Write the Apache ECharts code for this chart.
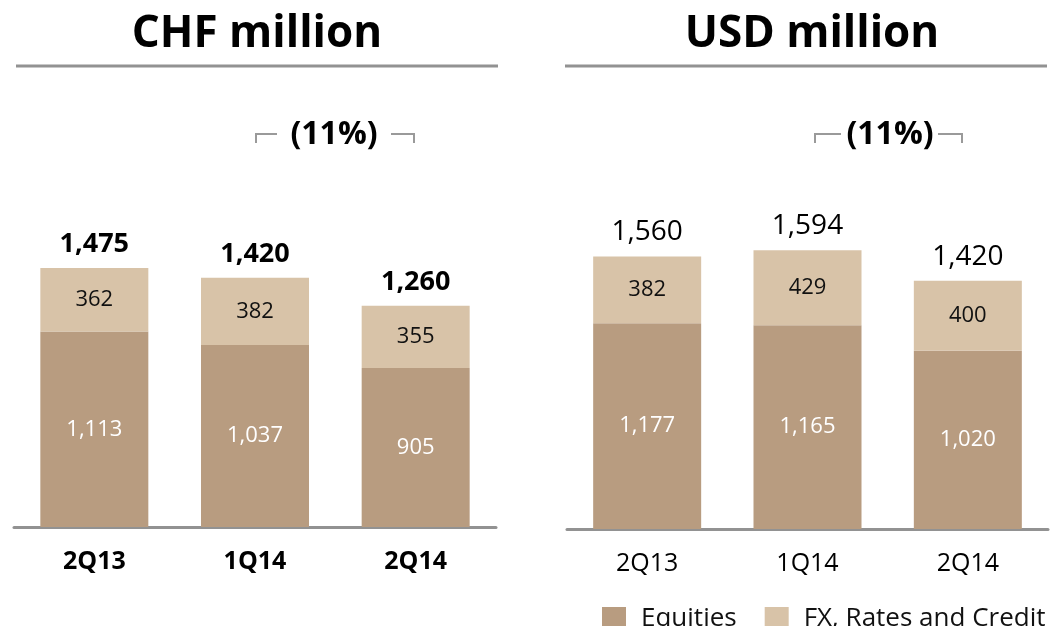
<!DOCTYPE html>
<html>
<head>
<meta charset="utf-8">
<script src="https://cdn.jsdelivr.net/npm/echarts@6/dist/echarts.min.js"></script>
<style>
  html, body { margin: 0; padding: 0; background: #fff; }
  #chart { width: 1057px; height: 626px; }
</style>
</head>
<body>
<div id="chart"></div>
<script>
// ── data ──
const quarters = ['2Q13', '1Q14', '2Q14']
const chfEquities = [1113, 1037, 905]
const chfFxRates = [362, 382, 355]
const usdEquities = [1177, 1165, 1020]
const usdFxRates = [382, 429, 400]
const chfTotals = [1475, 1420, 1260]
const usdTotals = [1560, 1594, 1420]
const changeLabel = '(11%)'

// ── style tokens ──
const FONT = '"Open Sans", "Noto Sans", sans-serif'
const EQ_COLOR = '#b89c80'
const FX_COLOR = '#d8c3a8'
const GREY = '#929292'

const fmt = v => v.toLocaleString('en-US')

function stackSeries(idx, equities, fx, totals, bold) {
  return [
    {
      name: 'Equities', type: 'bar', stack: 's' + idx,
      xAxisIndex: idx, yAxisIndex: idx, barWidth: 108,
      itemStyle: { color: EQ_COLOR },
      label: { show: true, position: 'inside', color: '#fff', fontSize: 22, fontFamily: FONT,
        formatter: p => fmt(p.value) },
      data: equities
    },
    {
      name: 'FX, Rates and Credit', type: 'bar', stack: 's' + idx,
      xAxisIndex: idx, yAxisIndex: idx, barWidth: 108,
      itemStyle: { color: FX_COLOR },
      label: { show: true, position: 'inside', color: '#111', fontSize: 22, fontFamily: FONT,
        formatter: p => fmt(p.value) },
      data: fx
    },
    {
      // zero-height cap, only carries the total label
      name: 'total' + idx, type: 'bar', stack: 's' + idx,
      xAxisIndex: idx, yAxisIndex: idx, barWidth: 108,
      itemStyle: { color: 'transparent' },
      label: { show: true, position: 'top', distance: 10, color: '#000',
        fontSize: bold ? 27 : 28,
        fontWeight: bold ? 'bold' : 'normal', fontFamily: FONT,
        formatter: p => fmt(totals[p.dataIndex]) },
      data: totals.map(() => 0)
    }
  ]
}

function xAxis(idx, bold) {
  return {
    type: 'category', gridIndex: idx, data: quarters,
    axisLine: { lineStyle: { color: GREY, width: 3 } },
    axisTick: { show: false },
    axisLabel: { color: '#000', fontSize: 25, fontWeight: bold ? 'bold' : 'normal',
      fontFamily: FONT, margin: 22 }
  }
}

function yAxis(idx) {
  return { type: 'value', gridIndex: idx, min: 0, max: 2500, show: false }
}

function bracket(x1, x2, y) {
  return { type: 'polyline', silent: true,
    shape: { points: [[x1, y + 9], [x1, y], [x2, y]] },
    style: { stroke: '#9a9a9a', lineWidth: 2, fill: null } }
}
function bracketR(x1, x2, y) {
  return { type: 'polyline', silent: true,
    shape: { points: [[x1, y], [x2, y], [x2, y + 9]] },
    style: { stroke: '#9a9a9a', lineWidth: 2, fill: null } }
}

function headText(text, x, y, size) {
  return { type: 'text', silent: true, position: [x, y],
    style: { text, fontSize: size, fontWeight: 'bold', fontFamily: FONT, fill: '#000',
      textAlign: 'center' } }
}

const chart = echarts.init(document.getElementById('chart'))
chart.setOption({
  animation: false,
  textStyle: { fontFamily: FONT },
  grid: [
    { left: 14, width: 482, top: 88, height: 439 },
    { left: 567, width: 481, top: 92, height: 437 }
  ],
  xAxis: [xAxis(0, true), xAxis(1, false)],
  yAxis: [yAxis(0), yAxis(1)],
  legend: {
    data: ['Equities', 'FX, Rates and Credit'],
    left: 597, top: 601, itemWidth: 24, itemHeight: 24, itemGap: 28,
    icon: 'rect',
    textStyle: { color: '#111', fontSize: 26, fontFamily: FONT, padding: [0, 0, 0, 10] }
  },
  graphic: [
    headText('CHF million', 257, 12, 44),
    headText('USD million', 812, 12, 44),
    { type: 'line', silent: true, shape: { x1: 16, y1: 66, x2: 498, y2: 66 },
      style: { stroke: GREY, lineWidth: 3 } },
    { type: 'line', silent: true, shape: { x1: 565, y1: 66, x2: 1047, y2: 66 },
      style: { stroke: GREY, lineWidth: 3 } },
    headText(changeLabel, 334, 119, 32),
    headText(changeLabel, 890, 119, 32),
    bracket(256, 277, 134), bracketR(391, 414, 134),
    bracket(815, 841, 134), bracketR(938, 962, 134)
  ],
  series: [
    ...stackSeries(0, chfEquities, chfFxRates, chfTotals, true),
    ...stackSeries(1, usdEquities, usdFxRates, usdTotals, false)
  ]
})
</script>
</body>
</html>
